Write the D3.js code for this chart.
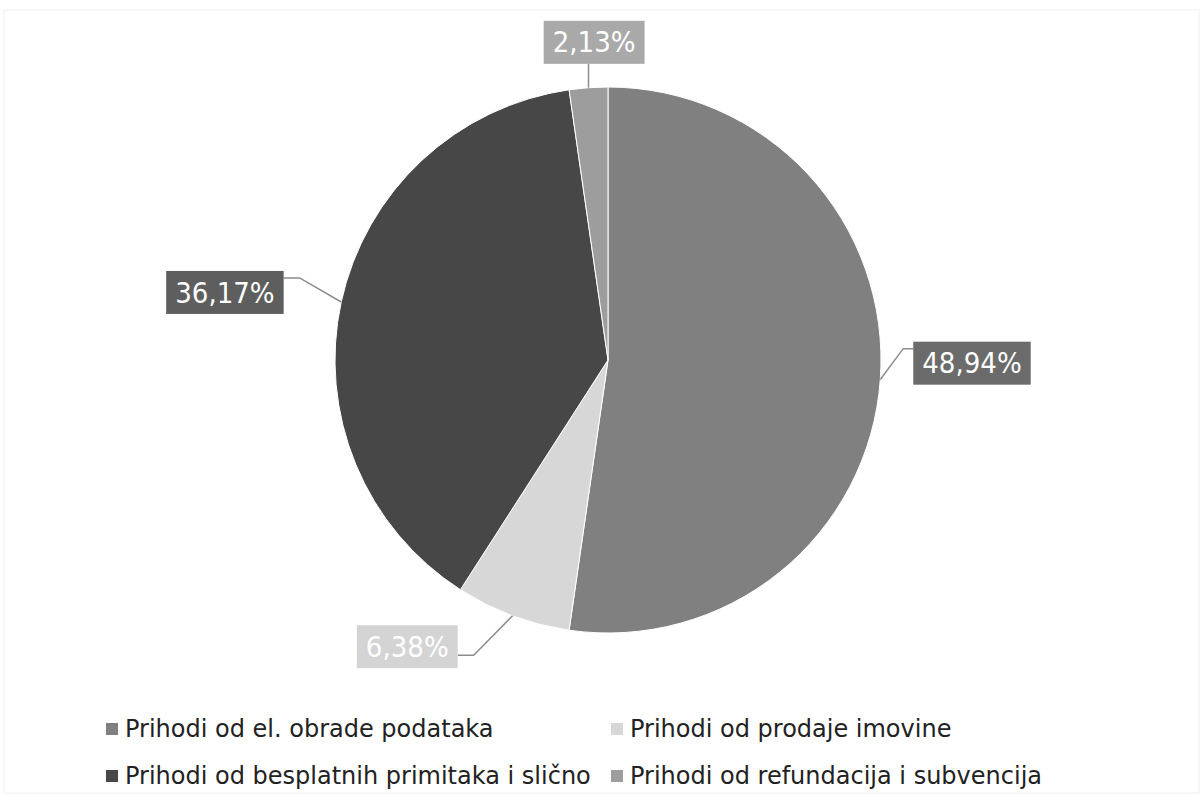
<!DOCTYPE html>
<html>
<head>
<meta charset="utf-8">
<script src="https://cdn.jsdelivr.net/npm/d3@7"></script>
<style>
  body { margin: 0; background: #fff; }
  svg { display: block; font-family: "DejaVu Sans", sans-serif; }
</style>
</head>
<body>
<div id="chart"></div>
<script>
// data
const categories = [
    "Prihodi od el. obrade podataka",
    "Prihodi od prodaje imovine",
    "Prihodi od besplatnih primitaka i slično",
    "Prihodi od refundacija i subvencija"
];
const shares = [48.94, 6.38, 36.17, 2.13];
const shareLabels = ["48,94%", "6,38%", "36,17%", "2,13%"];

const sliceColors = ["#808080", "#d7d7d7", "#474747", "#9d9d9d"];
const boxColors = ["#6b6b6b", "#d4d4d4", "#5e5e5e", "#a9a9a9"];

// where Excel dropped each label: angle (deg, clockwise from top) and distance from centre
const labelPlace = [
    { angle: 90.5, dist: 364, hook: "top" },
    { angle: 215, dist: 350, hook: "bottom" },
    { angle: 280, dist: 389, hook: "top" },
    { angle: 357.5, dist: 318, hook: "below" }
];

const width = 1203, height = 803;
const cx = 608, cy = 360, radius = 273;

const svg = d3.select("#chart").append("svg")
    .attr("width", width)
    .attr("height", height);

// faint chart-area border from the scan
svg.append("rect")
    .attr("x", 4).attr("y", 10)
    .attr("width", width - 8).attr("height", height - 20)
    .attr("fill", "none")
    .attr("stroke", "#f0f0f0");

const pie = d3.pie().sort(null).value(d => d);
const arcs = pie(shares);
const arc = d3.arc().innerRadius(0).outerRadius(radius);

const g = svg.append("g").attr("transform", "translate(" + cx + "," + cy + ")");

g.selectAll("path.slice")
    .data(arcs)
    .join("path")
    .attr("class", "slice")
    .attr("d", arc)
    .attr("fill", (d, i) => sliceColors[i])
    .attr("stroke", "#fff")
    .attr("stroke-width", 1);

function polar(angleRad, r) {
    return [Math.sin(angleRad) * r, -Math.cos(angleRad) * r];
}

// data labels with leader lines
arcs.forEach((d, i) => {
    const mid = (d.startAngle + d.endAngle) / 2;
    const edge = polar(mid, radius);
    const place = labelPlace[i];
    const pos = polar(place.angle * Math.PI / 180, place.dist);

    const lbl = g.append("g");
    const txt = lbl.append("text")
        .attr("x", pos[0])
        .attr("y", pos[1])
        .attr("dy", "0.35em")
        .attr("text-anchor", "middle")
        .attr("fill", "#fff")
        .style("font-family", "'DejaVu Sans Condensed', 'DejaVu Sans', sans-serif")
        .style("font-size", "29px")
        .text(shareLabels[i]);
    const bb = txt.node().getBBox();
    const bw = bb.width + 18, bh = 43;
    const bx = pos[0] - bw / 2, by = pos[1] - bh / 2;
    lbl.insert("rect", "text")
        .attr("x", bx).attr("y", by)
        .attr("width", bw).attr("height", bh)
        .attr("fill", boxColors[i]);

    let pts;
    if (place.hook === "below") {
        pts = [edge, [edge[0], by + bh]];
    } else {
        const side = pos[0] > edge[0] ? bx : bx + bw;
        const hy = place.hook === "top" ? by + 7 : by + bh - 13;
        const elbow = [side + (pos[0] > edge[0] ? -10 : 16), hy];
        pts = [edge, elbow, [side, hy]];
    }
    g.insert("path", "g")
        .attr("d", d3.line()(pts))
        .attr("fill", "none")
        .attr("stroke", "#8c8c8c")
        .attr("stroke-width", 1.5);
});

// legend, two columns
const legendCols = [106, 611], legendRows = [729, 776];
const legend = svg.append("g");
categories.forEach((c, i) => {
    const x = legendCols[i % 2], y = legendRows[Math.floor(i / 2)];
    legend.append("rect")
        .attr("x", x).attr("y", y - 6)
        .attr("width", 12).attr("height", 12)
        .attr("fill", sliceColors[i]);
    legend.append("text")
        .attr("x", x + 19)
        .attr("y", y)
        .attr("dy", "0.35em")
        .attr("fill", "#222")
        .style("font-size", "24px")
        .text(c);
});
</script>
</body>
</html>
